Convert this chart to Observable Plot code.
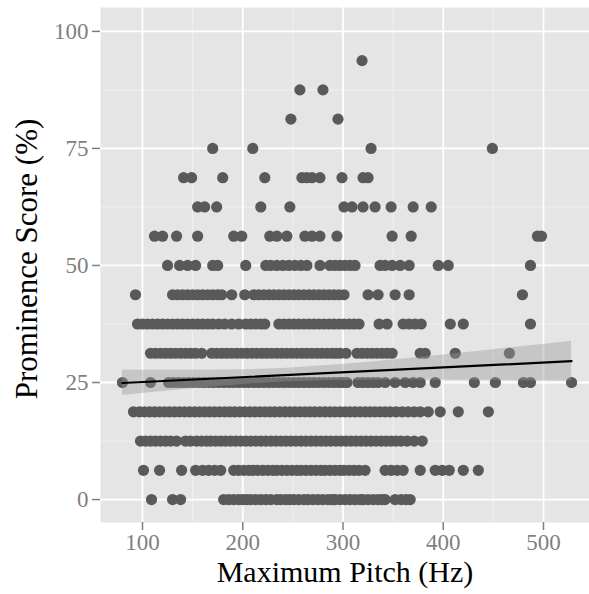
<!DOCTYPE html>
<html>
<head>
<meta charset="utf-8">
<script src="https://cdn.jsdelivr.net/npm/d3@7"></script>
<script src="https://cdn.jsdelivr.net/npm/@observablehq/plot@0.6"></script>
<style>
  html, body { margin: 0; padding: 0; background: #ffffff; }
  #chart svg { display: block; }
</style>
</head>
<body>
<div id="chart"></div>
<script>
// Prominence score levels (%)
const scoreLevels = [0, 6.25, 12.5, 18.75, 25, 31.25, 37.5, 43.75, 50, 56.25, 62.5, 68.75, 75, 81.25, 87.5, 93.75];

// Maximum pitch (Hz) of the points at each score level
const pitch0 = [109, 130, 138, 181, 186, 191, 196, 200, 204, 208, 213, 218, 223, 228, 234, 238, 243, 247, 251, 256, 261, 265, 270, 275, 280, 285, 289, 292, 297, 302, 307, 312, 317, 320, 325, 330, 335, 339, 342, 352, 358, 363, 367];
const pitch6 = [101, 117, 139, 153, 160, 166, 172, 178, 191, 196, 201, 206, 210, 215, 220, 225, 230, 234, 239, 244, 249, 254, 258, 263, 268, 273, 278, 282, 287, 292, 297, 301, 306, 311, 316, 322, 342, 348, 354, 360, 377, 392, 399, 406, 420, 435];
const pitch13 = [98, 103, 108, 113, 118, 123, 128, 134, 143, 148, 154, 159, 164, 168, 173, 178, 183, 188, 193, 198, 203, 208, 213, 218, 223, 228, 233, 238, 243, 248, 253, 258, 263, 268, 273, 278, 283, 288, 293, 298, 303, 308, 313, 318, 323, 328, 333, 338, 343, 348, 353, 358, 364, 371, 379];
const pitch19 = [91, 97, 102, 107, 112, 117, 122, 127, 132, 137, 142, 147, 152, 157, 162, 167, 172, 177, 182, 187, 192, 197, 202, 207, 212, 217, 222, 227, 232, 237, 242, 247, 252, 257, 262, 267, 272, 277, 282, 287, 292, 297, 302, 307, 312, 317, 322, 327, 332, 337, 342, 347, 353, 359, 365, 371, 377, 385, 397, 415, 445];
const pitch25 = [80, 108, 126, 131, 136, 141, 146, 151, 156, 161, 166, 171, 176, 181, 186, 191, 196, 201, 206, 211, 216, 221, 226, 231, 236, 241, 246, 251, 256, 261, 266, 271, 276, 281, 286, 291, 296, 300, 304, 315, 320, 325, 330, 335, 342, 352, 362, 370, 377, 392, 431, 452, 480, 487, 528];
const pitch31 = [108, 113, 118, 123, 128, 133, 138, 143, 148, 153, 159, 169, 174, 179, 184, 189, 194, 199, 204, 209, 214, 219, 224, 229, 234, 239, 244, 249, 254, 259, 264, 269, 274, 279, 284, 289, 293, 297, 303, 314, 319, 324, 329, 334, 339, 344, 349, 377, 382, 412, 466];
const pitch38 = [95, 100, 105, 110, 115, 120, 125, 130, 135, 140, 145, 150, 155, 160, 165, 170, 176, 182, 189, 196, 203, 208, 213, 218, 222, 236, 241, 246, 251, 256, 261, 266, 271, 276, 281, 286, 291, 296, 301, 306, 311, 316, 336, 344, 360, 366, 372, 378, 407, 420, 487];
const pitch44 = [93, 130, 135, 140, 145, 150, 155, 160, 165, 170, 175, 179, 189, 202, 211, 216, 221, 226, 231, 236, 241, 246, 251, 256, 261, 266, 271, 276, 281, 286, 291, 296, 301, 325, 335, 352, 366, 479];
const pitch50 = [125, 137, 145, 153, 170, 175, 203, 223, 228, 234, 240, 246, 252, 258, 264, 277, 287, 292, 297, 302, 307, 312, 337, 342, 349, 357, 366, 395, 405, 487];
const pitch56 = [112, 120, 134, 155, 191, 199, 227, 234, 244, 262, 269, 277, 294, 349, 368, 494, 498];
const pitch63 = [155, 162, 174, 218, 247, 301, 309, 320, 332, 348, 370, 388];
const pitch69 = [141, 149, 180, 222, 259, 264, 269, 277, 299, 320, 325];
const pitch75 = [170, 210, 328, 449];
const pitch81 = [248, 295];
const pitch88 = [257, 280];
const pitch94 = [319];

// Linear fit and its confidence band
const fitPitch = [80, 528];
const fitScore = [24.9, 29.55];
const bandPitch = [80, 120, 160, 200, 240, 280, 320, 360, 400, 440, 480, 528];
const bandLow  = [22.2, 23.1, 23.9, 24.6, 25.1, 25.4, 25.5, 25.6, 25.5, 25.5, 25.4, 25.3];
const bandHigh = [27.6, 27.6, 27.6, 27.7, 28.0, 28.6, 29.2, 30.0, 30.9, 31.8, 32.7, 33.8];

// Axis ticks
const xTicks = [100, 200, 300, 400, 500];
const xMinor = [150, 250, 350, 450];
const yTicks = [0, 25, 50, 75, 100];
const yMinor = [12.5, 37.5, 62.5, 87.5];

const pitchRows = [pitch0, pitch6, pitch13, pitch19, pitch25, pitch31, pitch38, pitch44, pitch50, pitch56, pitch63, pitch69, pitch75, pitch81, pitch88, pitch94];
const points = scoreLevels.flatMap((s, i) => pitchRows[i].map(p => ({pitch: p, score: s})));
const fit = fitPitch.map((p, i) => ({pitch: p, score: fitScore[i]}));
const band = bandPitch.map((p, i) => ({pitch: p, lo: bandLow[i], hi: bandHigh[i]}));

const serif = "'Liberation Serif', 'Times New Roman', serif";

const chart = Plot.plot({
  width: 589,
  height: 594,
  marginLeft: 100,
  marginRight: 0,
  marginTop: 7,
  marginBottom: 72,
  style: {fontFamily: serif, background: "#ffffff"},
  x: {domain: [58.1, 545.9]},
  y: {domain: [-4.9, 105.1]},
  marks: [
    Plot.frame({fill: "#e5e5e5", stroke: null}),
    Plot.ruleX(xMinor, {stroke: "#f2f2f2", strokeWidth: 0.9}),
    Plot.ruleY(yMinor, {stroke: "#f2f2f2", strokeWidth: 0.9}),
    Plot.ruleX(xTicks, {stroke: "#ffffff", strokeWidth: 1.8}),
    Plot.ruleY(yTicks, {stroke: "#ffffff", strokeWidth: 1.8}),
    Plot.dot(points, {x: "pitch", y: "score", r: 5.6, fill: "#595959", stroke: null}),
    Plot.areaY(band, {x: "pitch", y1: "lo", y2: "hi", fill: "#999999", fillOpacity: 0.4}),
    Plot.line(fit, {x: "pitch", y: "score", stroke: "#000000", strokeWidth: 2.2}),
    Plot.axisX(xTicks, {tickSize: 8, tickPadding: 3, fontSize: 23, stroke: "#7f7f7f", fill: "#7f7f7f", strokeWidth: 1.5, label: null, tickFormat: d => String(d)}),
    Plot.axisY(yTicks, {tickSize: 8, tickPadding: 4, fontSize: 23, stroke: "#7f7f7f", fill: "#7f7f7f", strokeWidth: 1.5, label: null, tickFormat: d => String(d)}),
    Plot.text(["Maximum Pitch (Hz)"], {frameAnchor: "bottom", dy: 59, textAnchor: "middle", fontSize: 30, fill: "#000000", text: d => d}),
    Plot.text(["Prominence Score (%)"], {frameAnchor: "left", dx: -73, dy: -6, textAnchor: "middle", rotate: -90, fontSize: 31, fill: "#000000", text: d => d})
  ]
});
document.getElementById("chart").appendChild(chart);
</script>
</body>
</html>
